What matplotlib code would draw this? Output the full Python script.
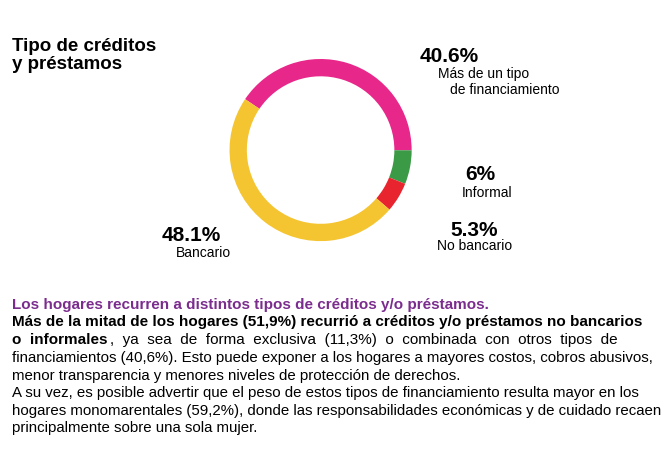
import matplotlib.pyplot as plt

plt.rcParams['font.family'] = ['Liberation Sans Narrow', 'Liberation Sans', 'DejaVu Sans']

# -----------------------------
# Data
# -----------------------------
labels = ["Más de un tipo\nde financiamiento", "Informal", "No bancario", "Bancario"]
values = [40.6, 6, 5.3, 48.1]
colors = ["#E8278A", "#3A9A45", "#E8252F", "#F5C431"]

# -----------------------------
# Plot donut
# -----------------------------
fig = plt.figure(figsize=(6.7, 4.61), dpi=100)
ax = fig.add_axes([0.341, 0.475, 0.275, 0.399])
ax.pie(values, colors=colors, startangle=146, counterclock=False,
       wedgeprops=dict(width=0.19, edgecolor="none"))
ax.set_aspect("equal")
ax.set_xlim(-1.01, 1.01)
ax.set_ylim(-1.01, 1.01)

def px(x, y):
    return x / 670, 1 - y / 461

fig.text(*px(12, 38), "Tipo de créditos\ny préstamos", fontsize=13.5, fontweight="bold",
         va="top", linespacing=1.1)
fig.text(*px(420, 56), "40.6%", fontsize=15, fontweight="bold", va="center")
fig.text(*px(438, 74), "Más de un tipo", fontsize=10, va="center")
fig.text(*px(450, 90), "de financiamiento", fontsize=10, va="center")
fig.text(*px(465, 174), "6%", fontsize=15, fontweight="bold", va="center")
fig.text(*px(462, 193), "Informal", fontsize=10, va="center")
fig.text(*px(450, 230), "5.3%", fontsize=15, fontweight="bold", va="center")
fig.text(*px(437, 246), "No bancario", fontsize=10, va="center")
fig.text(*px(162, 235), "48.1%", fontsize=15, fontweight="bold", va="center")
fig.text(*px(176, 253), "Bancario", fontsize=10, va="center")

# -----------------------------
# Paragraph
# -----------------------------
fig.text(*px(12, 305), "Los hogares recurren a distintos tipos de créditos y/o préstamos.",
         fontsize=11, fontweight="bold", color="#7B2D8E", va="center")
fig.text(*px(12, 322), "Más de la mitad de los hogares (51,9%) recurrió a créditos y/o préstamos no bancarios",
         fontsize=11, fontweight="bold", va="center")
fig.text(*px(12, 340), "o  informales", fontsize=11, fontweight="bold", va="center")
fig.text(*px(110, 340), ",  ya  sea  de  forma  exclusiva  (11,3%)  o  combinada  con  otros  tipos  de",
         fontsize=11, va="center")
lines = [
    "financiamientos (40,6%). Esto puede exponer a los hogares a mayores costos, cobros abusivos,",
    "menor transparencia y menores niveles de protección de derechos.",
    "A su vez, es posible advertir que el peso de estos tipos de financiamiento resulta mayor en los",
    "hogares monomarentales (59,2%), donde las responsabilidades económicas y de cuidado recaen",
    "principalmente sobre una sola mujer.",
]
for i, line in enumerate(lines):
    fig.text(*px(12, 358 + i * 17.6), line, fontsize=10.8, va="center")

fig.savefig("out.png")
